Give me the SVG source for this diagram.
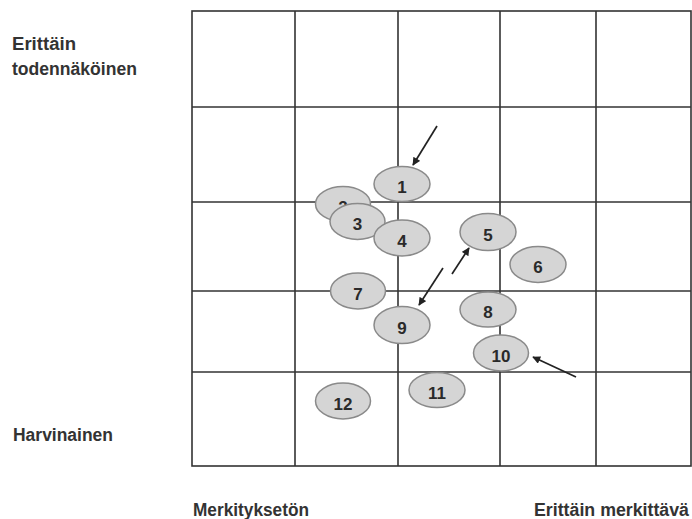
<svg xmlns="http://www.w3.org/2000/svg" width="692" height="519" viewBox="0 0 692 519">
<defs>
<marker id="ah" viewBox="0 0 10 10" refX="9" refY="5" markerWidth="9" markerHeight="8" orient="auto" markerUnits="userSpaceOnUse">
<path d="M0,0 L10,5 L0,10 z" fill="#222"/>
</marker>
<style>
.grid{stroke:#333;stroke-width:1.6;fill:none}
.lbl{font-family:"Liberation Sans",Arial,sans-serif;font-weight:bold;font-size:18px;fill:#333}
.node ellipse{fill:#d5d5d5;stroke:#8a8a8a;stroke-width:1.5}
.node text{font-family:"Liberation Sans",Arial,sans-serif;font-weight:bold;font-size:17px;fill:#2a2a2a;text-anchor:middle}
.conn line{stroke:#222;stroke-width:1.7;marker-end:url(#ah)}
</style>
</defs>
<rect width="692" height="519" fill="#fff"/>
<g id="grid" class="grid">
<rect x="192" y="11" width="499" height="455"/>
<line x1="295" y1="11" x2="295" y2="466"/>
<line x1="398" y1="11" x2="398" y2="466"/>
<line x1="500" y1="11" x2="500" y2="466"/>
<line x1="596" y1="11" x2="596" y2="466"/>
<line x1="192" y1="107" x2="691" y2="107"/>
<line x1="192" y1="202" x2="691" y2="202"/>
<line x1="192" y1="291" x2="691" y2="291"/>
<line x1="192" y1="372" x2="691" y2="372"/>
</g>
<g id="labels">
<text class="lbl" x="12" y="50" textLength="64" lengthAdjust="spacingAndGlyphs">Erittäin</text>
<text class="lbl" x="12" y="75" textLength="125" lengthAdjust="spacingAndGlyphs">todennäköinen</text>
<text class="lbl" x="13" y="441" textLength="100" lengthAdjust="spacingAndGlyphs">Harvinainen</text>
<text class="lbl" x="193" y="516" textLength="116" lengthAdjust="spacingAndGlyphs">Merkityksetön</text>
<text class="lbl" x="534" y="516" textLength="155" lengthAdjust="spacingAndGlyphs">Erittäin merkittävä</text>
</g>
<g id="n1" class="node"><ellipse cx="402" cy="184" rx="28" ry="17.5"/><text x="402" y="193">1</text></g>
<g id="n2" class="node"><ellipse cx="343" cy="204" rx="27.5" ry="17.5"/><text x="343" y="213">2</text></g>
<g id="n3" class="node"><ellipse cx="357.5" cy="221.5" rx="27.5" ry="18"/><text x="357.5" y="230">3</text></g>
<g id="n4" class="node"><ellipse cx="402" cy="238" rx="28" ry="18"/><text x="402" y="247">4</text></g>
<g id="n5" class="node"><ellipse cx="488" cy="232" rx="28" ry="18.5"/><text x="488" y="241">5</text></g>
<g id="n6" class="node"><ellipse cx="538" cy="264.5" rx="28" ry="18"/><text x="538" y="273">6</text></g>
<g id="n7" class="node"><ellipse cx="358" cy="291" rx="27.5" ry="18"/><text x="358" y="300">7</text></g>
<g id="n8" class="node"><ellipse cx="488" cy="309.5" rx="28" ry="17.5"/><text x="488" y="318">8</text></g>
<g id="n9" class="node"><ellipse cx="402" cy="325" rx="28" ry="18.5"/><text x="402" y="334">9</text></g>
<g id="n10" class="node"><ellipse cx="501" cy="353" rx="27.5" ry="18"/><text x="501" y="362">10</text></g>
<g id="n11" class="node"><ellipse cx="437" cy="390" rx="28" ry="17.5"/><text x="437" y="399">11</text></g>
<g id="n12" class="node"><ellipse cx="343" cy="401" rx="27.5" ry="18"/><text x="343" y="410">12</text></g>
<g id="connectors" class="conn">
<line x1="437" y1="126" x2="413" y2="165"/>
<line x1="443" y1="268" x2="419" y2="305"/>
<line x1="452" y1="274" x2="469" y2="248"/>
<line x1="576" y1="377" x2="533" y2="357"/>
</g>
</svg>
